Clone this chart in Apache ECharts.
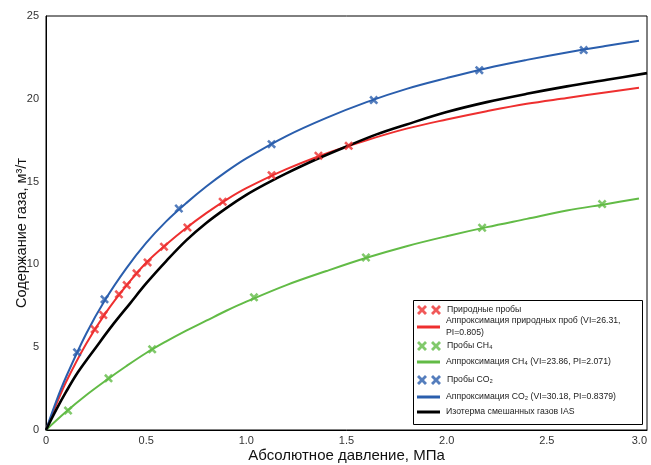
<!DOCTYPE html>
<html>
<head>
<meta charset="utf-8">
<script src="https://cdn.jsdelivr.net/npm/echarts@6/dist/echarts.min.js"></script>
<style>
html,body{margin:0;padding:0;background:#fff;}
#chart{width:651px;height:465px;}
</style>
</head>
<body>
<div id="chart"></div>
<script>
// ---- Data ----
const xTicks = [0, 0.5, 1.0, 1.5, 2.0, 2.5, 3.0];
const yTicks = [0, 5, 10, 15, 20, 25];

// Natural samples (red)
const natSampleP = [0.243, 0.286, 0.364, 0.403, 0.452, 0.507, 0.589, 0.706, 0.882, 1.126, 1.360, 1.511];
const natSampleV = [6.08, 6.94, 8.19, 8.75, 9.46, 10.12, 11.07, 12.23, 13.78, 15.39, 16.56, 17.16];
const natFitP = [0, 0.05, 0.1, 0.2, 0.3, 0.4, 0.5, 0.6, 0.7, 0.8, 0.9, 1.0, 1.2, 1.4, 1.6, 1.8, 2.0, 2.2, 2.4, 2.6, 2.8, 2.96];
const natFitV = [0, 1.5, 2.9, 5.2, 7.1, 8.7, 10.1, 11.2, 12.2, 13.1, 13.9, 14.6, 15.75, 16.7, 17.5, 18.2, 18.75, 19.25, 19.7, 20.05, 20.4, 20.67];

// CH4 (green)
const ch4SampleP = [0.110, 0.312, 0.530, 1.038, 1.597, 2.177, 2.776];
const ch4SampleV = [1.17, 3.12, 4.87, 8.01, 10.42, 12.21, 13.64];
const ch4FitP = [0, 0.1, 0.2, 0.3, 0.4, 0.5, 0.6, 0.7, 0.8, 0.9, 1.0, 1.2, 1.4, 1.6, 1.8, 2.0, 2.2, 2.4, 2.6, 2.8, 2.96];
const ch4FitV = [0, 1.1, 2.1, 3.0, 3.85, 4.65, 5.35, 6.0, 6.6, 7.2, 7.75, 8.75, 9.6, 10.4, 11.1, 11.7, 12.25, 12.75, 13.25, 13.65, 13.98];

// CO2 (blue)
const co2SampleP = [0.155, 0.292, 0.663, 1.126, 1.636, 2.163, 2.684];
const co2SampleV = [4.69, 7.89, 13.38, 17.26, 19.92, 21.73, 22.94];
const co2FitP = [0, 0.05, 0.1, 0.2, 0.3, 0.4, 0.5, 0.6, 0.7, 0.8, 0.9, 1.0, 1.2, 1.4, 1.6, 1.8, 2.0, 2.2, 2.4, 2.6, 2.8, 2.96];
const co2FitV = [0, 1.7, 3.2, 5.8, 7.95, 9.75, 11.3, 12.6, 13.7, 14.7, 15.6, 16.4, 17.75, 18.85, 19.8, 20.6, 21.25, 21.85, 22.35, 22.8, 23.2, 23.5];

// IAS mixed-gas isotherm (black)
const iasP = [0, 0.05, 0.1, 0.16, 0.25, 0.33, 0.42, 0.5, 0.6, 0.7, 0.8, 0.9, 1.0, 1.1, 1.2, 1.35, 1.5, 1.65, 1.8, 2.0, 2.2, 2.4, 2.6, 2.8, 3.0];
const iasV = [0, 1.2, 2.3, 3.5, 5.0, 6.3, 7.65, 8.85, 10.2, 11.45, 12.5, 13.4, 14.2, 14.88, 15.5, 16.35, 17.12, 17.85, 18.45, 19.2, 19.8, 20.3, 20.75, 21.15, 21.55];

const names = {
  natS: 'Природные пробы',
  natF: 'Аппроксимация природных проб',
  ch4S: 'Пробы CH₄',
  ch4F: 'Аппроксимация CH₄',
  co2S: 'Пробы CO₂',
  co2F: 'Аппроксимация CO₂',
  ias: 'Изотерма смешанных газов IAS'
};

// ---- Styling ----
const RED = '#ee2f2f', GREEN = '#62bb46', BLUE = '#2a5ead', BLACK = '#000000';
const FONT = 'Liberation Sans, Arial, sans-serif';
const CROSS = 'path://M0,2L2,0L5,3L8,0L10,2L7,5L10,8L8,10L5,7L2,10L0,8L3,5Z';
const CROSS2 = 'path://M0,2L2,0L5,3L8,0L10,2L7,5L10,8L8,10L5,7L2,10L0,8L3,5Z M14,2L16,0L19,3L22,0L24,2L21,5L24,8L22,10L19,7L16,10L14,8L17,5Z';
const BAR = 'path://M0,0L23,0L23,3L0,3Z';

const zip = (a, b) => a.map((v, i) => [v, b[i]]);

function lineSeries(name, P, V, color, width) {
  return {
    name, type: 'line', data: zip(P, V), smooth: 0.35, symbol: 'none',
    lineStyle: { color, width }, itemStyle: { color }, z: 2, animation: false
  };
}
function scatterSeries(name, P, V, color) {
  return {
    name, type: 'scatter', data: zip(P, V), symbol: CROSS, symbolSize: 9,
    itemStyle: { color }, z: 5, animation: false
  };
}

function legendItem(name, top, isScatter, formatter) {
  return {
    show: true, orient: 'vertical', left: 417, top, padding: 0,
    itemWidth: isScatter ? 24 : 23, itemHeight: isScatter ? 10 : 3, itemGap: 0,
    data: [{ name, icon: isScatter ? CROSS2 : BAR }],
    selectedMode: false,
    formatter: formatter || undefined,
    textStyle: {
      fontFamily: FONT, fontSize: 8.7, color: '#222', lineHeight: 12, padding: [0, 0, 0, 1],
      rich: { s: { fontFamily: FONT, fontSize: 8.7, color: '#222', lineHeight: 12 } }
    }
  };
}

const chart = echarts.init(document.getElementById('chart'), null, { renderer: 'canvas' });
chart.setOption({
  backgroundColor: '#fff',
  animation: false,
  grid: { left: 46, right: 4, top: 16, bottom: 35, show: true, borderColor: '#000', borderWidth: 1,
    containLabel: false, outerBoundsMode: 'none' },
  xAxis: {
    type: 'value', min: xTicks[0], max: xTicks[xTicks.length - 1], interval: 0.5,
    name: 'Абсолютное давление, МПа', nameLocation: 'middle', nameGap: 18, nameMoveOverlap: false,
    nameTextStyle: { fontFamily: FONT, fontSize: 15, color: '#111' },
    axisLine: { lineStyle: { color: '#000', width: 1 } },
    axisTick: { show: false }, splitLine: { show: false },
    axisLabel: { fontFamily: FONT, fontSize: 11, color: '#333', margin: 5, alignMaxLabel: 'right',
      formatter: v => (v === 0 ? '0' : v.toFixed(1)) }
  },
  yAxis: {
    type: 'value', min: yTicks[0], max: yTicks[yTicks.length - 1], interval: 5,
    name: 'Содержание газа, м³/т', nameLocation: 'middle', nameGap: 17, nameMoveOverlap: false,
    nameTextStyle: { fontFamily: FONT, fontSize: 14.5, color: '#111', padding: [0, 20, 0, 0] },
    axisLine: { lineStyle: { color: '#000', width: 1 } },
    axisTick: { show: false }, splitLine: { show: false },
    axisLabel: { fontFamily: FONT, fontSize: 11, color: '#333', margin: 7 }
  },
  graphic: [{
    type: 'rect', shape: { x: 413.5, y: 300.5, width: 229, height: 124 },
    style: { fill: '#fff', stroke: '#000', lineWidth: 1 }, z: 3, silent: true
  }],
  legend: [
    legendItem(names.natS, 304, true),
    legendItem(names.natF, 315, false, 'Аппроксимация природных проб {s|(VI=26.31,}\n{s|PI=0.805)}'),
    legendItem(names.ch4S, 340, true),
    legendItem(names.ch4F, 356, false, 'Аппроксимация CH₄ (VI=23.86, PI=2.071)'),
    legendItem(names.co2S, 374, true),
    legendItem(names.co2F, 391, false, 'Аппроксимация CO₂ (VI=30.18, PI=0.8379)'),
    legendItem(names.ias, 406, false)
  ],
  series: [
    lineSeries(names.natF, natFitP, natFitV, RED, 2),
    lineSeries(names.ch4F, ch4FitP, ch4FitV, GREEN, 2),
    lineSeries(names.co2F, co2FitP, co2FitV, BLUE, 2),
    lineSeries(names.ias, iasP, iasV, BLACK, 2.6),
    scatterSeries(names.natS, natSampleP, natSampleV, RED),
    scatterSeries(names.ch4S, ch4SampleP, ch4SampleV, GREEN),
    scatterSeries(names.co2S, co2SampleP, co2SampleV, BLUE)
  ]
});
</script>
</body>
</html>
